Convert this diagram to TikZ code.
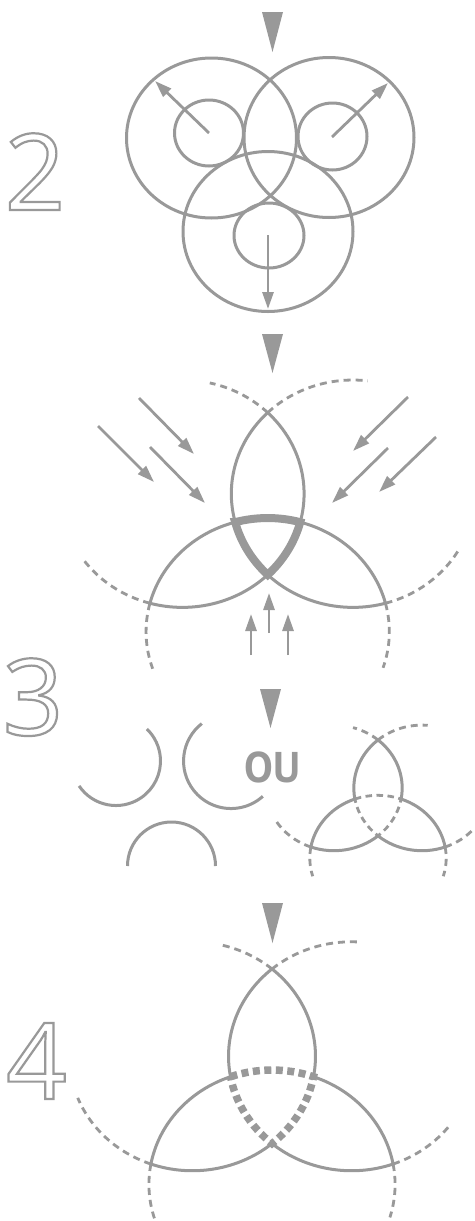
\documentclass[tikz,border=0pt]{standalone}
\usepackage{fontspec}
\usetikzlibrary{arrows.meta}
\newfontfamily\digitfont{Open Sans}
\newfontfamily\oufont{PT Sans}
\definecolor{ink}{RGB}{153,153,153}
\newcommand\outl[1]{\special{pdf:literal direct 1 Tr 2.2 w}#1\special{pdf:literal direct 0 Tr}}
% arc of circle centred (#1,#2), radius \Trad, from angle #3 to #4, style #5
\newcommand\Tarc[5]{%
  \pgfmathsetmacro\Ta{#3}\pgfmathsetmacro\Tb{#4}%
  \draw[#5] ({#1+\Trad*cos(\Ta)},{#2+\Trad*sin(\Ta)}) arc[start angle=\Ta, end angle=\Tb, radius=\Trad];}
% one circle of the knot: centre, inward angle psi, extension beyond + tip, beyond - tip
\newcommand\Tcircle[5]{%
  \Tarc{#1}{#2}{#3-\Talp}{#3-\Tbet}{solidarc}%
  \Tarc{#1}{#2}{#3+\Tbet}{#3+\Talp}{solidarc}%
  \Tarc{#1}{#2}{#3+\Talp}{#3+\Talp+#4}{extarc}%
  \Tarc{#1}{#2}{#3-\Talp}{#3-\Talp-#5}{extarc}}
% #1 d, #2 theta, #3 centre style, #4 A top, #5 A left, #6 B right, #7 B top, #8 C left, #9 C right
\newcommand\Triq[9]{%
  \pgfmathsetmacro\Trad{0.8660254*#1/cos(#2)}%
  \pgfmathsetmacro\Talp{#2+30}%
  \pgfmathsetmacro\Tbet{#2-30}%
  \pgfmathsetmacro\Tcx{0.8660254*#1}%
  \pgfmathsetmacro\Tcy{#1/2}%
  \Tcircle{-\Tcx}{\Tcy}{330}{#4}{#5}%
  \Tcircle{\Tcx}{\Tcy}{210}{#6}{#7}%
  \Tcircle{0}{-#1}{90}{#8}{#9}%
  \pgfmathsetmacro\Tva{90+\Tbet}\pgfmathsetmacro\Tvb{90-\Tbet}%
  \pgfmathsetmacro\Tvc{330+\Tbet}\pgfmathsetmacro\Tvd{330-\Tbet}%
  \pgfmathsetmacro\Tve{210+\Tbet}\pgfmathsetmacro\Tvf{210-\Tbet}%
  \draw[#3] ({\Trad*cos(\Tva)},{-#1+\Trad*sin(\Tva)})
     arc[start angle=\Tva,end angle=\Tvb,radius=\Trad]
     arc[start angle=\Tvc,end angle=\Tvd,radius=\Trad]
     arc[start angle=\Tve,end angle=\Tvf,radius=\Trad] -- cycle;}
\begin{document}
\begin{tikzpicture}[x=1pt,y=1pt,
  solidarc/.style={draw=ink,line width=3pt},
  extarc/.style={draw=ink,line width=2.8pt,dash pattern=on 7pt off 5pt},
  thickc/.style={draw=ink,line width=8pt,line join=miter},
  thindashc/.style={draw=ink,line width=2.8pt,dash pattern=on 6.5pt off 4.5pt},
  thickdashc/.style={draw=ink,line width=7.5pt,dash pattern=on 7pt off 4.5pt},
  arr/.style={draw=ink,line width=2.8pt,-{Triangle[length=17pt,width=11pt]}},
  marker/.style={fill=ink},
  digit/.style={anchor=base,inner sep=0pt,text=ink,font=\digitfont\fontsize{106}{106}\selectfont}]
\fill[white] (0,0) rectangle (474,-1221);
\useasboundingbox (0,0) rectangle (474,-1221);

% step numbers
\node[digit] (n2) at (35,-210) {\outl{2}};
\node[digit] (n3) at (33,-735) {\outl{3}};
\node[digit] (n4) at (36.5,-1099) {\outl{4}};

% down markers
\fill[marker] (262,-12) -- (283,-12) -- (272.5,-52) -- cycle;
\fill[marker] (262,-334) -- (283,-334) -- (272.5,-373) -- cycle;
\fill[marker] (260,-689) -- (281,-689) -- (270.5,-728) -- cycle;
\fill[marker] (262,-903) -- (283,-903) -- (272.5,-943) -- cycle;

% step 2 : three circles
\draw[solidarc] (211.5,-138) ellipse[x radius=85,y radius=80];
\draw[solidarc] (329,-137.5) ellipse[x radius=85,y radius=80];
\draw[solidarc] (268,-231.5) ellipse[x radius=85,y radius=80];
\draw[solidarc] (209,-133) ellipse[x radius=34.5,y radius=33];
\draw[solidarc] (332.5,-136.5) ellipse[x radius=34.5,y radius=33.5];
\draw[solidarc] (269,-235.5) ellipse[x radius=35,y radius=32.5];
\coordinate (c1) at (209,-133);
\coordinate (c2) at (332,-137);
\coordinate (c3) at (268,-235);
\coordinate (e1) at (155,-81);
\coordinate (e2) at (388,-83);
\coordinate (e3) at (268,-309);
\draw[arr] (c1) -- (e1);
\draw[arr] (c2) -- (e2);
\draw[arr] (c3) -- (e3);

% step 3a : knot with arrows
\begin{scope}[shift={(267.7,-539.7)},xscale=1.07]
\Triq{92}{45.5}{thickc}{31.5}{40}{44.5}{51.5}{33.5}{33}
\end{scope}
\coordinate (a1s) at (139,-398); \coordinate (a1e) at (194,-454);
\coordinate (a2s) at (98,-426);  \coordinate (a2e) at (154,-482);
\coordinate (a3s) at (150,-447); \coordinate (a3e) at (205,-503);
\coordinate (a4s) at (408,-397); \coordinate (a4e) at (353,-451);
\coordinate (a5s) at (388,-448); \coordinate (a5e) at (332,-503);
\coordinate (a6s) at (436,-437); \coordinate (a6e) at (379,-492);
\coordinate (a7s) at (269,-633); \coordinate (a7e) at (269,-593);
\coordinate (a8s) at (251,-655); \coordinate (a8e) at (251,-614);
\coordinate (a9s) at (288,-655); \coordinate (a9e) at (288,-614);
\foreach \i in {1,...,9}{\draw[arr] (a\i s) -- (a\i e);}

% step 3b : pieces OU knot
\draw[solidarc] (79.1,-785.9) arc[start angle=-146,end angle=46,radius=44.5];
\draw[solidarc] (201.8,-723.6) arc[start angle=128,end angle=312,radius=47.5];
\draw[solidarc] (127.5,-866) arc[start angle=180,end angle=0,radius=44];
\node[font=\oufont\bfseries\fontsize{43}{43}\selectfont,text=ink,inner sep=0pt] (ou) at (272.5,-767) {OU};
\begin{scope}[shift={(378,-811.3)},xscale=1.086]
\Triq{46.8}{49.8}{thindashc}{24}{40}{30}{45}{27}{27}
\end{scope}

% step 4
\begin{scope}[shift={(272,-1099)},xscale=1.075]
\Triq{85.5}{49.7}{thickdashc}{26}{49}{33.6}{43}{27.5}{27}
\end{scope}
\end{tikzpicture}
\end{document}
